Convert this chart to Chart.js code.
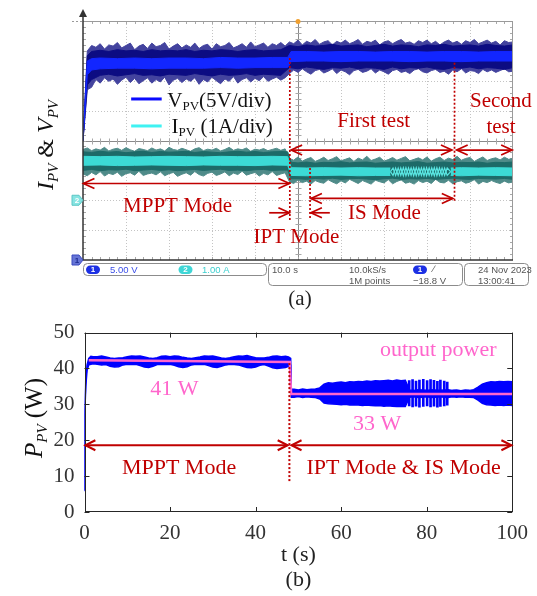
<!DOCTYPE html>
<html>
<head>
<meta charset="utf-8">
<script src="https://cdn.jsdelivr.net/npm/chart.js@4.4.1/dist/chart.umd.min.js"></script>
<style>
html, body { margin: 0; padding: 0; background: #fff; }
#wrap { position: relative; width: 537px; height: 596px; }
canvas { position: absolute; left: 0; }
#scope { top: 0; }
#power { top: 310px; }
</style>
</head>
<body>
<div id="wrap">
  <canvas id="scope" width="537" height="310"></canvas>
  <canvas id="power" width="537" height="286"></canvas>
</div>
<script>
const SERIF = '"Liberation Serif", "Times New Roman", serif';
const RED = '#c00000';
const PINK = '#ff66cc';

// ---------- (a) scope capture : time (s), V_PV (V), I_PV (A) ----------
const tScope = [0, 1, 2, 3, 4, 5, 6, 7, 8, 9, 10, 11, 12, 13, 14, 15, 16, 17, 18, 19, 20,
  21, 22, 23, 24, 25, 26, 27, 28, 29, 30, 31, 32, 33, 34, 35, 36, 37, 38, 39, 40,
  41, 42, 43, 44, 45, 46, 47, 48, 49, 50, 51, 52, 53, 54, 55, 56, 57, 58, 59, 60,
  61, 62, 63, 64, 65, 66, 67, 68, 69, 70, 71, 72, 73, 74, 75, 76, 77, 78, 79, 80,
  81, 82, 83, 84, 85, 86, 87, 88, 89, 90, 91, 92, 93, 94, 95, 96, 97, 98, 99, 100];

// voltage noise peaks
const vSpikeHi = [20, 35.0, 35.9,
  35.6, 36.2, 35.3, 36.0, 35.8, 36.4, 35.5, 35.9, 36.3,
  35.2, 35.8, 36.1, 35.4, 36.3, 35.7, 35.9, 36.4, 35.3,
  35.8, 36.2, 35.5, 36.0, 35.6, 36.3, 35.4, 35.9, 36.1,
  35.3, 36.2, 35.7, 35.9, 36.4, 35.5, 35.8, 36.2, 35.6,
  36.5, 35.7, 36.0, 36.3, 35.6, 36.2, 35.9, 36.4, 35.8,
  36.5, 36.2, 36.8, 36.0, 36.6, 36.3, 36.9, 36.1, 36.5, 36.7,
  36.0, 36.6, 36.3, 36.8, 36.2, 36.5, 36.9, 36.1, 36.6, 36.4,
  36.8, 36.0, 36.5, 36.7, 36.2, 36.6, 36.9, 36.3, 36.5, 36.1,
  36.7, 36.4, 36.8, 36.2, 36.6, 36.0, 36.5, 36.8, 36.3, 36.6,
  36.1, 36.7, 36.4, 36.9, 36.2, 36.5, 36.8, 36.3, 36.6, 36.0,
  36.7, 36.4, 36.5];
const vSpikeLo = [20, 28.5, 28.9,
  30.2, 29.6, 30.5, 29.9, 30.3, 29.4, 30.1, 30.6, 29.7,
  30.4, 29.5, 30.0, 30.5, 29.6, 30.2, 29.8, 30.6, 29.3,
  30.1, 30.4, 29.7, 30.3, 29.9, 30.5, 29.4, 30.2, 29.8,
  30.6, 30.0, 29.5, 30.3, 29.9, 30.7, 29.6, 30.2, 30.5,
  29.8, 30.4, 30.0, 30.7, 29.9, 30.3, 30.6, 30.1, 30.5,
  31.2, 31.8, 31.4, 32.0, 31.5, 31.1, 31.7, 31.9, 31.3, 31.6,
  32.0, 31.2, 31.8, 31.5, 31.0, 31.7, 31.9, 31.4, 31.6, 32.0,
  31.3, 31.8, 31.5, 31.1, 31.7, 31.9, 31.4, 31.6, 31.2, 31.8,
  32.0, 31.5, 31.3, 31.7, 31.9, 31.4, 31.6, 31.1, 31.8, 31.5,
  32.0, 31.3, 31.7, 31.6, 31.2, 31.9, 31.5, 31.8, 31.4, 31.7,
  32.0, 31.5, 31.6];

// voltage dense band
const tVd = [0, 1, 2, 4, 6, 8, 10, 12, 14, 16, 18, 20, 22, 24, 26, 28, 30, 32, 34, 36, 38, 40,
  42, 44, 46, 48, 50, 52, 54, 56, 58, 60, 62, 64, 66, 68, 70, 72, 74, 76, 78, 80, 82, 84,
  86, 88, 90, 92, 94, 96, 98, 100];
const vDenseHi = [20, 34.2, 34.9,
  35.1, 34.9, 35.2, 35.0, 35.1, 34.9, 35.2, 35.0, 35.1, 35.0, 35.2, 34.9, 35.1, 35.0, 35.2,
  35.1, 34.9, 35.1, 35.2, 35.0, 35.1, 35.2,
  35.9, 35.7, 36.0, 35.8, 35.9, 36.1, 35.8, 35.9, 36.0, 35.7, 35.9, 36.1, 35.8, 36.0, 35.9,
  35.7, 36.0, 35.9, 36.1, 35.8, 35.9, 36.0, 35.8, 36.1, 35.9, 35.8, 36.0];
const vDenseLo = [20, 29.3, 30.2,
  30.9, 31.1, 30.8, 31.0, 31.2, 30.9, 31.0, 30.8, 31.1, 31.0, 30.9, 31.2, 31.0, 30.8, 31.1,
  30.9, 31.0, 31.2, 30.9, 31.1, 31.0, 30.9,
  32.2, 32.0, 32.3, 32.1, 31.9, 32.2, 32.1, 32.3, 32.0, 32.2, 32.1, 31.9, 32.3, 32.0, 32.2,
  32.1, 32.3, 32.0, 31.9, 32.2, 32.1, 32.3, 32.0, 32.2, 32.1, 31.9, 32.2];

// voltage bright core
const tVc = [0, 1, 2, 4, 8, 12, 16, 20, 24, 28, 32, 36, 40, 44, 47.6,
  48.4, 52, 56, 60, 64, 68, 72, 76, 80, 84, 88, 92, 96, 100];
const vCoreHi = [20, 33.3, 33.7, 33.8, 33.7, 33.8, 33.7, 33.8, 33.8, 33.7, 33.9, 33.8, 33.8, 33.9, 33.9,
  34.9, 34.9, 34.8, 34.9, 34.9, 34.8, 34.9, 34.9, 34.8, 34.9, 34.9, 34.8, 34.9, 34.9];
const vCoreLo = [20, 31.0, 31.8, 32.0, 32.1, 32.1, 32.0, 32.1, 32.1, 32.1, 32.2, 32.1, 32.2, 32.2, 32.2,
  33.2, 33.3, 33.3, 33.2, 33.3, 33.3, 33.3, 33.2, 33.3, 33.3, 33.2, 33.3, 33.3, 33.3];

// current noise peaks
const iSpikeHi = [1.70, 1.75, 1.66, 1.72, 1.68, 1.77, 1.65, 1.71,
  1.74, 1.67, 1.76, 1.69, 1.64, 1.73, 1.70, 1.66,
  1.75, 1.68, 1.72, 1.65, 1.77, 1.70, 1.67, 1.74,
  1.69, 1.64, 1.72, 1.76, 1.66, 1.71, 1.68, 1.74,
  1.65, 1.70, 1.77, 1.67, 1.72, 1.69, 1.75, 1.64,
  1.71, 1.68, 1.73, 1.66, 1.70, 1.74, 1.67, 1.72,
  1.40, 1.34, 1.45, 1.31, 1.38, 1.43, 1.30, 1.36,
  1.44, 1.33, 1.39, 1.46, 1.32, 1.37, 1.42, 1.30,
  1.41, 1.35, 1.47, 1.33, 1.38, 1.44, 1.31, 1.36,
  1.43, 1.34, 1.40, 1.46, 1.32, 1.37, 1.42, 1.35,
  1.45, 1.31, 1.39, 1.44, 1.33, 1.41, 1.36, 1.47,
  1.34, 1.40, 1.43, 1.30, 1.38, 1.45, 1.33, 1.39,
  1.42, 1.35, 1.44, 1.37, 1.40];
const iSpikeLo = [0.88, 0.82, 0.93, 0.85, 0.96, 0.81, 0.90, 0.86,
  0.94, 0.80, 0.89, 0.92, 0.84, 0.97, 0.83, 0.88,
  0.91, 0.85, 0.95, 0.82, 0.89, 0.93, 0.80, 0.87,
  0.92, 0.84, 0.96, 0.86, 0.81, 0.90, 0.94, 0.83,
  0.88, 0.95, 0.82, 0.91, 0.86, 0.97, 0.84, 0.89,
  0.93, 0.81, 0.90, 0.85, 0.96, 0.83, 0.88, 0.92,
  0.62, 0.56, 0.68, 0.59, 0.64, 0.54, 0.66, 0.60,
  0.57, 0.69, 0.61, 0.55, 0.65, 0.58, 0.70, 0.63,
  0.56, 0.66, 0.60, 0.54, 0.67, 0.62, 0.58, 0.69,
  0.55, 0.63, 0.68, 0.57, 0.61, 0.54, 0.66, 0.59,
  0.64, 0.56, 0.70, 0.60, 0.58, 0.67, 0.55, 0.62,
  0.65, 0.57, 0.61, 0.69, 0.54, 0.63, 0.59, 0.66,
  0.60, 0.56, 0.64, 0.58, 0.62];

// current dense band
const tId = [0, 2, 4, 6, 8, 10, 12, 14, 16, 18, 20, 22, 24, 26, 28, 30, 32, 34, 36, 38, 40, 42, 44, 46,
  47.6, 48.4, 50, 52, 54, 56, 58, 60, 62, 64, 66, 68, 70, 72, 74, 76, 78, 80, 82, 84, 86, 88,
  90, 92, 94, 96, 98, 100];
const iDenseHi = [1.62, 1.60, 1.64, 1.61, 1.63, 1.59, 1.62, 1.64, 1.60, 1.63, 1.61, 1.62,
  1.64, 1.60, 1.63, 1.61, 1.59, 1.62, 1.64, 1.61, 1.63, 1.60, 1.62, 1.63,
  1.62, 1.27,
  1.25, 1.28, 1.24, 1.27, 1.26, 1.29, 1.25, 1.27, 1.28, 1.24, 1.26, 1.28, 1.25,
  1.27, 1.29, 1.24, 1.26, 1.28, 1.25, 1.27, 1.26, 1.28, 1.24, 1.27, 1.26, 1.28];
const iDenseLo = [1.00, 1.03, 0.99, 1.02, 1.01, 1.04, 0.99, 1.01, 1.03, 1.00, 1.02, 0.99,
  1.01, 1.03, 1.00, 1.02, 1.04, 1.00, 1.01, 0.99, 1.02, 1.03, 1.00, 1.01,
  1.01, 0.72,
  0.72, 0.70, 0.73, 0.71, 0.74, 0.70, 0.72, 0.73, 0.71, 0.69, 0.72, 0.74, 0.70,
  0.72, 0.71, 0.73, 0.70, 0.72, 0.74, 0.71, 0.70, 0.73, 0.72, 0.71, 0.73, 0.70];

// current bright core (open where the core beats, 72-85 s)
const tIc = [0, 4, 8, 12, 16, 20, 24, 28, 32, 36, 40, 44, 47.6,
  48.4, 52, 56, 60, 64, 68, 71.5, 72, 85, 85.5, 88, 92, 96, 100];
const iCoreHi = [1.47, 1.46, 1.47, 1.45, 1.46, 1.47, 1.46, 1.45, 1.47, 1.46, 1.46, 1.47, 1.46,
  1.09, 1.08, 1.09, 1.08, 1.09, 1.08, 1.08, null, null, 1.08, 1.09, 1.08, 1.09, 1.08];
const iCoreLo = [1.17, 1.18, 1.16, 1.17, 1.18, 1.17, 1.16, 1.18, 1.17, 1.17, 1.16, 1.18, 1.17,
  0.83, 0.82, 0.83, 0.84, 0.82, 0.83, 0.83, null, null, 0.83, 0.82, 0.84, 0.83, 0.82];
const tBeat = [71.5, 72.1, 72.7, 73.3, 73.9, 74.5, 75.1, 75.7, 76.3, 76.9, 77.5, 78.1,
  78.7, 79.3, 79.9, 80.5, 81.1, 81.7, 82.3, 82.9, 83.5, 84.1, 84.7, 85.5];
const iBeatA = [0.96, 1.08, 0.83, 1.08, 0.83, 1.09, 0.82, 1.08, 0.83, 1.09, 0.82, 1.08,
  0.83, 1.09, 0.82, 1.08, 0.83, 1.09, 0.82, 1.08, 0.83, 1.08, 0.83, 0.96];
const iBeatB = [0.96, 0.83, 1.08, 0.83, 1.08, 0.82, 1.09, 0.83, 1.08, 0.82, 1.09, 0.83,
  1.08, 0.82, 1.09, 0.83, 1.08, 0.82, 1.09, 0.83, 1.08, 0.83, 1.08, 0.96];

// ---------- (b) P_PV (W) vs t (s) ----------
const tP = [0, 0.05, 0.3, 0.6, 1, 1.5, 2,
  3, 4, 5, 6, 7, 8, 9, 10, 11, 12, 13, 14, 15, 16, 17, 18, 19, 20, 21, 22, 23, 24, 25,
  26, 27, 28, 29, 30, 31, 32, 33, 34, 35, 36, 37, 38, 39, 40, 41, 42, 43, 44, 45, 46, 47,
  47.7, 48.2, 48.35,
  49, 50, 51, 52, 53, 54, 55, 56, 57, 58, 59, 60, 61, 62, 63, 64, 65, 66, 67, 68, 69, 70,
  71, 72, 73, 74, 75, 76, 77, 78, 79, 80, 81, 82, 83, 84, 85, 86, 87, 88, 89, 90, 91, 92,
  93, 94, 95, 96, 97, 98, 99, 100];
const pHi = [6, 28, 37, 41, 42.8, 43.4, 43.3,
  43.3, 43.5, 43.2, 42.9, 42.8, 42.9, 43.0, 43.3, 43.5, 43.4,
  43.5, 43.2, 42.9, 42.8, 43.0, 43.4, 43.5, 43.3, 43.5, 43.4,
  43.1, 42.9, 42.8, 43.0, 43.2, 43.5, 43.4, 43.5, 43.2, 42.9,
  42.8, 43.0, 43.3, 43.5, 43.4, 43.6, 43.3, 43.0, 42.9, 42.9,
  43.1, 43.4, 43.5, 43.3, 43.4,
  43.2, 42.8, 34.2,
  34.2, 34.0, 34.3, 34.1, 34.2, 34.3,
  34.6, 35.6, 36.0, 35.9, 36.1, 36.2, 36.0, 36.3, 36.2, 36.4, 36.3, 36.5, 36.4, 36.6,
  36.5, 36.6, 36.7, 36.5, 36.8, 36.6, 36.7,
  34.0, 33.9, 34.1, 34.0, 33.9, 34.1, 34.0, 33.9, 34.0, 34.1,
  33.9, 34.0, 33.8, 34.0, 33.9, 34.1,
  34.8, 35.6, 36.0, 36.3, 36.2, 36.4, 36.3, 36.4, 36.3];
const pLo = [6, 27, 35, 39.5, 41, 41.2, 41.3,
  41.2, 41.0, 41.1, 40.6, 40.4, 40.5, 41.0, 41.2, 41.1, 41.2,
  40.8, 40.4, 40.3, 40.6, 41.1, 41.2, 41.1, 41.2, 40.9, 40.5,
  40.3, 40.5, 41.0, 41.2, 41.1, 41.2, 40.8, 40.4, 40.3, 40.6,
  41.0, 41.2, 41.1, 41.0, 40.6, 40.3, 40.2, 40.4, 40.9, 41.1,
  40.7, 40.2, 40.0, 40.1, 40.3,
  40.6, 40.8, 32.0,
  32.0, 32.2, 31.9, 32.1, 32.0, 31.9,
  31.5, 30.4, 30.2, 30.1, 30.0, 29.9, 30.0, 29.8, 29.9, 29.8, 29.7, 29.8, 29.7, 29.6,
  29.7, 29.5, 29.6, 29.5, 29.4, 29.5, 29.4,
  32.0, 32.1, 31.9, 32.0, 32.1, 31.9, 32.0, 32.1, 32.0, 31.9,
  32.1, 32.0, 32.1, 32.0, 32.0, 31.9,
  31.2, 30.3, 29.9, 29.8, 29.7, 29.8, 29.7, 29.8, 29.7];
// isolated oscillation bursts around 76-85 s
const tBurst = [75.9, 76.7, 77.5, 78.3, 79.2, 80.1, 80.9, 81.7, 82.5, 83.2, 84.1, 84.8];
const pBurstHi = [36.6, 36.9, 36.5, 36.8, 37.0, 36.6, 36.9, 36.7, 36.4, 36.8, 36.5, 36.2];
const pBurstLo = [29.6, 29.3, 29.5, 29.2, 29.4, 29.6, 29.3, 29.5, 29.2, 29.4, 29.6, 29.8];
// output power (mean)
const tAvg = [1, 48, 48.3, 100];
const pAvg = [42.3, 41.8, 32.9, 32.9];

const xTicksB = [0, 20, 40, 60, 80, 100];
const yTicksB = [0, 10, 20, 30, 40, 50];

// ---------- helpers ----------
function pts(ts, vs) { return ts.map((t, i) => ({ x: t, y: vs[i] })); }

function band(ts, hi, lo, axis, color, order, width) {
  const base = { yAxisID: axis, borderColor: color, borderWidth: width, pointRadius: 0, tension: 0, order };
  return [
    Object.assign({ data: pts(ts, hi), fill: false }, base),
    Object.assign({ data: pts(ts, lo), fill: '-1', backgroundColor: color }, base)
  ];
}

function line(ctx, x1, y1, x2, y2) {
  ctx.beginPath(); ctx.moveTo(x1, y1); ctx.lineTo(x2, y2); ctx.stroke();
}

function head(ctx, tipX, y, dir, len, half) {
  ctx.beginPath();
  ctx.moveTo(tipX + dir * len, y - half);
  ctx.lineTo(tipX, y);
  ctx.lineTo(tipX + dir * len, y + half);
  ctx.stroke();
}

function arrow(ctx, x1, x2, y, startHead, endHead, len, half) {
  line(ctx, x1, y, x2, y);
  if (startHead) head(ctx, x1, y, x2 > x1 ? 1 : -1, len, half);
  if (endHead) head(ctx, x2, y, x2 > x1 ? -1 : 1, len, half);
}

// parts: [text, font, dy]; drawn left to right starting at x
function richWidth(ctx, parts) {
  let w = 0;
  parts.forEach(p => { ctx.font = p[1]; w += ctx.measureText(p[0]).width; });
  return w;
}
function rich(ctx, parts, x, y) {
  ctx.textBaseline = 'alphabetic'; ctx.textAlign = 'left';
  let cx = x;
  parts.forEach(p => { ctx.font = p[1]; ctx.fillText(p[0], cx, y + (p[2] || 0)); cx += ctx.measureText(p[0]).width; });
}
function richRotated(ctx, parts, bx, cy) {
  ctx.save();
  ctx.translate(bx, cy);
  ctx.rotate(-Math.PI / 2);
  rich(ctx, parts, -richWidth(ctx, parts) / 2, 0);
  ctx.restore();
}
function centerText(ctx, text, font, color, x, y) {
  ctx.font = font; ctx.fillStyle = color; ctx.textAlign = 'center'; ctx.textBaseline = 'alphabetic';
  ctx.fillText(text, x, y);
}

// ---------- (a) decoration ----------
const scopeDecor = {
  id: 'scopeDecor',
  beforeDatasetsDraw(chart) {
    const { ctx, chartArea: a, scales: { x, yV } } = chart;
    ctx.save();
    ctx.lineWidth = 1;
    ctx.strokeStyle = '#c4c4c4';
    ctx.setLineDash([1, 2]);
    for (let t = 10; t < 100; t += 10) {
      if (t === 50) continue;
      const px = Math.round(x.getPixelForValue(t)) + 0.5;
      line(ctx, px, a.top, px, a.bottom);
    }
    for (let v = 5; v < 40; v += 5) {
      if (v === 20) continue;
      const py = Math.round(yV.getPixelForValue(v)) + 0.5;
      line(ctx, a.left, py, a.right, py);
    }
    ctx.setLineDash([]);
    const cx = Math.round(x.getPixelForValue(50)) + 0.5;
    const cy = Math.round(yV.getPixelForValue(20)) + 0.5;
    ctx.strokeStyle = '#8a8a8a';
    line(ctx, cx, a.top, cx, a.bottom);
    line(ctx, a.left, cy, a.right, cy);
    // minor ticks
    ctx.strokeStyle = '#a8a8a8';
    for (let t = 2; t < 100; t += 2) {
      const px = Math.round(x.getPixelForValue(t)) + 0.5;
      line(ctx, px, cy - 3, px, cy + 3);
      line(ctx, px, a.top, px, a.top + 3);
      line(ctx, px, a.bottom - 3, px, a.bottom);
    }
    for (let v = 1; v < 40; v += 1) {
      const py = Math.round(yV.getPixelForValue(v)) + 0.5;
      line(ctx, cx - 3, py, cx + 3, py);
      line(ctx, a.left, py, a.left + 3, py);
      line(ctx, a.right - 3, py, a.right, py);
    }
    ctx.restore();
  },
  afterDatasetsDraw(chart) {
    const { ctx, chartArea: a, scales: { x, yV, yI } } = chart;
    const X = t => x.getPixelForValue(t);
    const Y = v => yV.getPixelForValue(v);
    ctx.save();
    // frame
    ctx.lineWidth = 1;
    ctx.strokeStyle = '#9a9a9a';
    line(ctx, a.left, a.top + 0.5, a.right, a.top + 0.5);
    line(ctx, a.right - 0.5, a.top, a.right - 0.5, a.bottom);
    ctx.setLineDash([2, 2]);
    line(ctx, a.left - 11, a.top + 0.5, a.left, a.top + 0.5);
    ctx.setLineDash([]);
    ctx.strokeStyle = '#333'; ctx.lineWidth = 1.5;
    line(ctx, a.left, a.bottom, a.right, a.bottom);
    line(ctx, a.left, a.bottom, a.left, a.top - 6);
    ctx.fillStyle = '#333';
    ctx.beginPath();
    ctx.moveTo(a.left, a.top - 12); ctx.lineTo(a.left - 4, a.top - 4); ctx.lineTo(a.left + 4, a.top - 4);
    ctx.closePath(); ctx.fill();
    // trigger point
    ctx.fillStyle = '#f0a030';
    ctx.beginPath(); ctx.arc(X(50), a.top + 0.5, 2.5, 0, Math.PI * 2); ctx.fill();

    // channel ground markers
    const mk = (py, fill, stroke, label, txt) => {
      const lx = a.left - 11;
      ctx.beginPath();
      ctx.moveTo(lx, py - 5); ctx.lineTo(lx + 7, py - 5); ctx.lineTo(lx + 11, py);
      ctx.lineTo(lx + 7, py + 5); ctx.lineTo(lx, py + 5); ctx.closePath();
      ctx.fillStyle = fill; ctx.fill();
      ctx.strokeStyle = stroke; ctx.lineWidth = 1; ctx.stroke();
      ctx.font = 'bold 8px "Liberation Sans"'; ctx.fillStyle = txt;
      ctx.textAlign = 'center'; ctx.textBaseline = 'middle';
      ctx.fillText(label, lx + 5, py + 0.5);
    };
    mk(yI.getPixelForValue(0), '#86e4e2', '#5cc6c4', '2', '#ffffff');
    mk(Y(0), '#6675d6', '#3b4bc0', '1', '#1c2a90');

    // red mode markers
    ctx.strokeStyle = RED; ctx.lineWidth = 1.7;
    ctx.setLineDash([2, 2]);
    line(ctx, X(48.1), Y(33.8), X(48.1), Y(6.7));
    line(ctx, X(86.4), Y(33.0), X(86.4), Y(9.8));
    line(ctx, X(52.8), Y(15.4), X(52.8), Y(7.0));
    ctx.setLineDash([]);
    arrow(ctx, X(48.4), X(85.8), Y(18.4), true, true, 11, 5);
    arrow(ctx, X(86.9), X(99.8), Y(18.4), true, true, 11, 5);
    arrow(ctx, X(0.1), X(48.0), Y(12.8), true, true, 11, 5);
    arrow(ctx, X(53.0), X(86.0), Y(10.3), true, true, 11, 5);
    arrow(ctx, X(43.3), X(48.0), Y(7.9), false, true, 11, 5);
    arrow(ctx, X(57.4), X(53.0), Y(7.9), false, true, 11, 5);

    const f21 = '21px ' + SERIF;
    centerText(ctx, 'First test', f21, RED, X(67.6), Y(22.3));
    centerText(ctx, 'Second', f21, RED, X(97.2), Y(25.66));
    centerText(ctx, 'test', f21, RED, X(97.2), Y(21.2));
    centerText(ctx, 'MPPT Mode', f21, RED, X(22.0), Y(8.08));
    centerText(ctx, 'IS Mode', f21, RED, X(70.1), Y(6.81));
    centerText(ctx, 'IPT Mode', f21, RED, X(49.65), Y(2.79));

    // legend
    ctx.lineWidth = 3;
    ctx.strokeStyle = '#0a0aff';
    line(ctx, X(11.2), Y(26.95), X(18.3), Y(26.95));
    ctx.strokeStyle = '#3ff2f2';
    line(ctx, X(11.2), Y(22.43), X(18.3), Y(22.43));
    ctx.fillStyle = '#111';
    const sub = '13px ' + SERIF;
    rich(ctx, [['V', f21], ['PV', sub, 3], ['(5V/div)', f21]], X(19.6), Y(25.66));
    rich(ctx, [['I', f21], ['PV', sub, 3], [' (1A/div)', f21]], X(20.6), Y(21.2));
    ctx.restore();
  },
  afterDraw(chart) {
    const { ctx } = chart;
    ctx.save();
    // axis label
    ctx.fillStyle = '#111';
    const it = 'italic 24px ' + SERIF, its = 'italic 15px ' + SERIF, rg = '24px ' + SERIF;
    richRotated(ctx, [['I', it], ['PV', its, 5], [' & ', rg], ['V', it], ['PV', its, 5]], 53, 145);

    // scope status bar
    ctx.strokeStyle = '#8c8c8c'; ctx.lineWidth = 1;
    ctx.beginPath(); ctx.roundRect(83.5, 263.5, 183, 12, 4); ctx.stroke();
    ctx.beginPath(); ctx.roundRect(268.5, 263.5, 194, 22, 4); ctx.stroke();
    ctx.beginPath(); ctx.roundRect(464.5, 263.5, 64, 22, 4); ctx.stroke();
    const pill = (px, fill, label) => {
      ctx.fillStyle = fill;
      ctx.beginPath(); ctx.roundRect(px, 265.5, 14, 8.5, 4.2); ctx.fill();
      ctx.fillStyle = '#fff'; ctx.font = 'bold 8px "Liberation Sans"';
      ctx.textAlign = 'center'; ctx.textBaseline = 'middle';
      ctx.fillText(label, px + 7, 270);
    };
    pill(86, '#1c30e4', '1');
    pill(178.5, '#3fd6d6', '2');
    pill(413, '#1c30e4', '1');
    ctx.font = '9.5px "Liberation Sans"'; ctx.textAlign = 'left'; ctx.textBaseline = 'middle';
    ctx.fillStyle = '#3a4ee6'; ctx.fillText('5.00 V', 110, 270);
    ctx.fillStyle = '#3ccfcf'; ctx.fillText('1.00 A', 202, 270);
    ctx.fillStyle = '#555';
    ctx.fillText('10.0 s', 272, 270);
    ctx.fillText('10.0kS/s', 349, 270);
    ctx.fillText('1M points', 349, 281);
    ctx.fillText('\u2215', 433, 269.5);
    ctx.fillText('\u221218.8 V', 413, 281);
    ctx.fillText('24 Nov 2023', 478, 270);
    ctx.fillText('13:00:41', 478, 281);

    centerText(ctx, '(a)', '21px ' + SERIF, '#222', 300, 305);
    ctx.restore();
  }
};

new Chart(document.getElementById('scope'), {
  type: 'line',
  data: {
    datasets: [
      { data: pts(tBeat, iBeatA), yAxisID: 'yI', borderColor: '#5ae6e2', borderWidth: 1.2, pointRadius: 0, fill: false, order: 0 },
      { data: pts(tBeat, iBeatB), yAxisID: 'yI', borderColor: '#5ae6e2', borderWidth: 1.2, pointRadius: 0, fill: false, order: 0 },
      ...band(tVc, vCoreHi, vCoreLo, 'yV', '#1226ff', 1, 1),
      ...band(tVd, vDenseHi, vDenseLo, 'yV', '#0c0c82', 2, 1),
      ...band(tScope, vSpikeHi, vSpikeLo, 'yV', '#43439e', 3, 1),
      ...band(tIc, iCoreHi, iCoreLo, 'yI', '#3cdad5', 1, 1),
      ...band(tId, iDenseHi, iDenseLo, 'yI', '#1d6a68', 2, 1),
      ...band(tScope, iSpikeHi, iSpikeLo, 'yI', '#4f8b89', 3, 1)
    ]
  },
  options: {
    responsive: false,
    animation: false,
    layout: { padding: { left: 83, right: 24, top: 21, bottom: 50 } },
    scales: {
      x: { type: 'linear', display: false, min: 0, max: 100 },
      yV: { type: 'linear', display: false, min: 0, max: 40 },
      yI: { type: 'linear', display: false, min: -2, max: 6 }
    },
    plugins: { legend: { display: false }, tooltip: { enabled: false } }
  },
  plugins: [scopeDecor]
});

// ---------- (b) decoration ----------
const powerDecor = {
  id: 'powerDecor',
  afterDraw(chart) {
    const { ctx, chartArea: a, scales: { x, y } } = chart;
    const X = t => x.getPixelForValue(t);
    const Y = v => y.getPixelForValue(v);
    ctx.save();
    // box with inward ticks
    ctx.strokeStyle = '#262626'; ctx.lineWidth = 1;
    ctx.strokeRect(Math.round(a.left) + 0.5, Math.round(a.top) + 0.5,
      Math.round(a.right - a.left) - 1, Math.round(a.bottom - a.top) - 1);
    xTicksB.forEach(t => {
      const px = Math.round(X(t)) + 0.5;
      line(ctx, px, a.bottom, px, a.bottom - 5);
      line(ctx, px, a.top, px, a.top + 5);
    });
    yTicksB.forEach(v => {
      const py = Math.round(Y(v)) + 0.5;
      line(ctx, a.left, py, a.left + 5, py);
      line(ctx, a.right, py, a.right - 5, py);
    });

    // annotations
    ctx.strokeStyle = RED; ctx.lineWidth = 2;
    ctx.setLineDash([2, 2]);
    line(ctx, X(47.9), Y(41.5), X(47.9), Y(8.5));
    ctx.setLineDash([]);
    arrow(ctx, X(0.2), X(47.5), Y(18.6), true, true, 10, 5);
    arrow(ctx, X(48.4), X(99.8), Y(18.6), true, true, 10, 5);
    const f22 = '22px ' + SERIF;
    centerText(ctx, 'MPPT Mode', f22, RED, X(22.1), Y(10.7));
    centerText(ctx, 'IPT Mode & IS Mode', f22, RED, X(74.6), Y(10.7));
    centerText(ctx, 'output power', f22, PINK, X(82.7), Y(43.4));
    centerText(ctx, '41 W', f22, PINK, X(21.0), Y(32.7));
    centerText(ctx, '33 W', f22, PINK, X(68.4), Y(22.8));

    // axis titles
    ctx.fillStyle = '#111';
    richRotated(ctx, [['P', 'italic 25px ' + SERIF], ['PV', 'italic 15px ' + SERIF, 5], [' (W)', '25px ' + SERIF]], 42, 108);
    centerText(ctx, 't (s)', f22, '#222', (a.left + a.right) / 2, 251);
    centerText(ctx, '(b)', f22, '#222', (a.left + a.right) / 2, 276);
    ctx.restore();
  }
};

new Chart(document.getElementById('power'), {
  type: 'line',
  data: {
    datasets: [
      { data: pts(tAvg, pAvg), borderColor: PINK, borderWidth: 2.5, pointRadius: 0, fill: false, order: 0 },
      {
        type: 'bar',
        data: tBurst.map((t, i) => ({ x: t, y: [pBurstLo[i], pBurstHi[i]] })),
        backgroundColor: '#0000ff', barThickness: 2, order: 1
      },
      ...band(tP, pHi, pLo, 'y', '#0000ff', 2, 1.5)
    ]
  },
  options: {
    responsive: false,
    animation: false,
    layout: { padding: { left: 0, right: 20.5, top: 11, bottom: 44 } },
    scales: {
      x: {
        type: 'linear', min: 0, max: 100, offset: false,
        grid: { display: false, drawTicks: false }, border: { display: false },
        ticks: { stepSize: 20, autoSkip: false, maxRotation: 0, padding: 9, color: '#333', font: { family: SERIF, size: 21 } },
        afterFit: s => { s.height = 40; }
      },
      y: {
        type: 'linear', min: 0, max: 50,
        grid: { display: false, drawTicks: false }, border: { display: false },
        ticks: { stepSize: 10, padding: 10, color: '#333', font: { family: SERIF, size: 21 } },
        afterFit: s => { s.width = 84.5; }
      }
    },
    plugins: { legend: { display: false }, tooltip: { enabled: false } }
  },
  plugins: [powerDecor]
});
</script>
</body>
</html>
